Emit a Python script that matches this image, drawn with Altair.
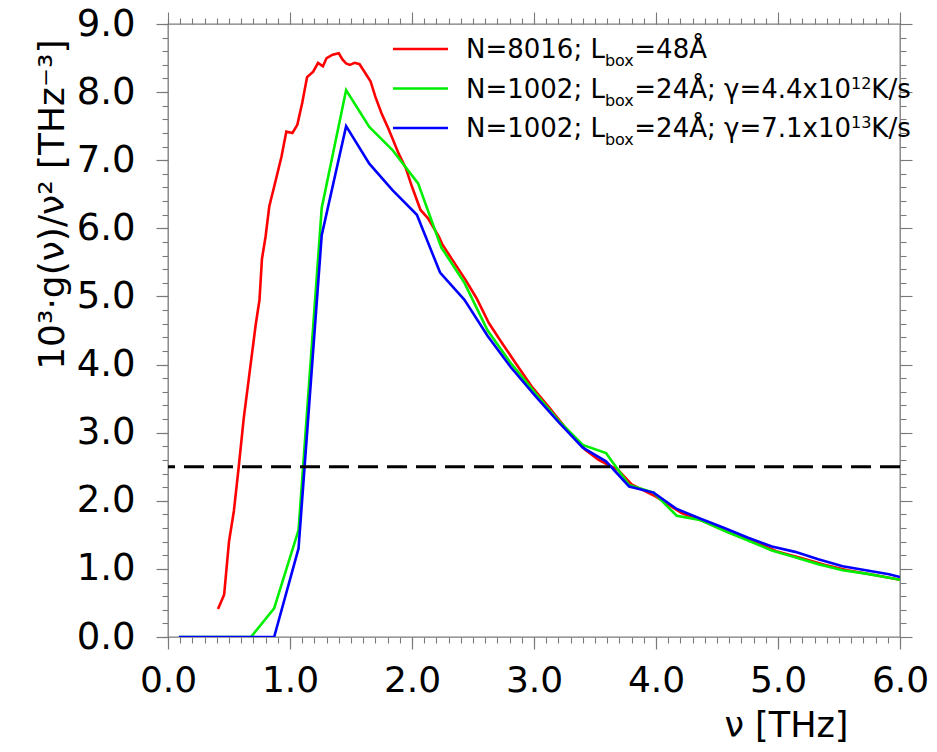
import altair as alt
import pandas as pd

# ---------------- data ----------------
red_nu = [0.41, 0.46, 0.50, 0.54, 0.58, 0.62, 0.67, 0.72, 0.75, 0.77,
          0.80, 0.83, 0.87, 0.93, 0.97, 1.02, 1.06, 1.10, 1.14, 1.19,
          1.23, 1.27, 1.30, 1.35, 1.40, 1.43, 1.46, 1.49, 1.53, 1.57,
          1.61, 1.66, 1.70, 1.75, 1.80, 1.84, 1.89, 1.95, 2.00, 2.07,
          2.13, 2.22, 2.25, 2.33, 2.44, 2.53, 2.63, 2.74, 2.85, 2.98,
          3.12, 3.25, 3.42, 3.53, 3.69, 3.80, 4.00, 4.21, 4.40, 4.62,
          4.81, 5.00, 5.19, 5.38, 5.57, 5.79, 6.00]
red_g = [0.41, 0.62, 1.40, 1.85, 2.50, 3.20, 3.90, 4.60, 4.95, 5.55,
         5.88, 6.32, 6.61, 7.05, 7.42, 7.40, 7.52, 7.84, 8.22, 8.30,
         8.43, 8.38, 8.50, 8.55, 8.57, 8.48, 8.42, 8.40, 8.43, 8.41,
         8.30, 8.16, 7.93, 7.69, 7.49, 7.32, 7.10, 6.88, 6.61, 6.27,
         6.15, 5.88, 5.76, 5.54, 5.24, 4.97, 4.61, 4.31, 4.02, 3.68,
         3.38, 3.09, 2.75, 2.60, 2.45, 2.24, 2.06, 1.82, 1.69, 1.52,
         1.40, 1.25, 1.16, 1.06, 0.98, 0.91, 0.84]

green_nu = [0.09, 0.68, 0.87, 1.07, 1.26, 1.46, 1.65, 1.84, 2.05, 2.24,
            2.43, 2.62, 2.81, 3.01, 3.20, 3.40, 3.59, 3.78, 3.98, 4.17,
            4.36, 4.56, 4.75, 4.95, 5.14, 5.33, 5.53, 5.72, 5.91, 6.00]
green_g = [0.00, 0.00, 0.42, 1.57, 6.30, 8.03, 7.49, 7.15, 6.66, 5.72,
           5.20, 4.50, 4.02, 3.58, 3.18, 2.82, 2.70, 2.23, 2.12, 1.78,
           1.72, 1.56, 1.42, 1.27, 1.17, 1.07, 0.98, 0.93, 0.87, 0.84]

blue_nu = [0.09, 0.87, 1.07, 1.26, 1.46, 1.65, 1.84, 2.04, 2.23, 2.43,
           2.62, 2.81, 3.01, 3.20, 3.40, 3.59, 3.78, 3.98, 4.17, 4.36,
           4.56, 4.75, 4.95, 5.14, 5.33, 5.53, 5.72, 5.91, 6.00]
blue_g = [0.00, 0.00, 1.30, 5.90, 7.50, 6.95, 6.56, 6.20, 5.35, 4.95,
          4.42, 3.96, 3.54, 3.16, 2.78, 2.58, 2.21, 2.12, 1.88, 1.74,
          1.60, 1.46, 1.33, 1.25, 1.14, 1.04, 0.98, 0.92, 0.88]

ref_level = [2.5]

x_major = [0, 1, 2, 3, 4, 5, 6]
y_major = [0, 1, 2, 3, 4, 5, 6, 7, 8, 9]
x_minor = [round(0.1 * i, 1) for i in range(61)]
y_minor = [round(0.2 * i, 1) for i in range(46)]

series_colors = ["#ff0000", "#00ee00", "#0000ff"]
legend_rows = [
    [("N=8016; L", "m"), ("box", "sub"), ("=48Å", "m")],
    [("N=1002; L", "m"), ("box", "sub"), ("=24Å; γ=4.4x10", "m"), ("12", "sup"), ("K/s", "m")],
    [("N=1002; L", "m"), ("box", "sub"), ("=24Å; γ=7.1x10", "m"), ("13", "sup"), ("K/s", "m")],
]

x_title = "ν [THz]"
y_title = "10³·g(ν)/ν² [THz⁻³]"

# ---------------- style ----------------
FONT = "DejaVu Sans"
W, H = 732, 613
FRAME = "#7a7a7a"
MAIN_FS, SMALL_FS = 26, 16

xs = alt.Scale(domain=[0, 6], nice=False, zero=False)
ys = alt.Scale(domain=[0, 9], nice=False, zero=False)

x_axis_main = alt.Axis(orient="bottom", values=x_major, format=".1f", tickSize=12,
                       tickColor=FRAME, tickWidth=1.2, domain=False, grid=False,
                       labelFont=FONT, labelFontSize=36, labelColor="black",
                       labelBaseline="alphabetic", labelPadding=42, labelFlush=False,
                       labelOverlap=False,
                       title=x_title, titleFont=FONT, titleFontSize=35,
                       titleFontWeight="normal", titleColor="black",
                       titleAlign="right", titleBaseline="alphabetic",
                       titleX=680, titleY=99)
y_axis_main = alt.Axis(orient="left", values=y_major, format=".1f", tickSize=12,
                       tickColor=FRAME, tickWidth=1.2, domain=False, grid=False,
                       labelFont=FONT, labelFontSize=37, labelColor="black",
                       labelPadding=21, labelFlush=False, labelOverlap=False,
                       labelBaseline="middle",
                       title=y_title, titleFont=FONT, titleFontSize=36,
                       titleFontWeight="normal", titleColor="black",
                       titleAngle=270, titleAlign="right", titleBaseline="alphabetic",
                       titleX=-105, titleY=15)


def tick_axis(orient, values, size):
    return alt.Axis(orient=orient, values=values, tickSize=size, tickColor=FRAME,
                    tickWidth=1.1, labels=False, domain=False, grid=False, title=None)


X = alt.X("nu:Q", scale=xs, axis=x_axis_main)
Y = alt.Y("g:Q", scale=ys, axis=y_axis_main)

df_red = pd.DataFrame({"nu": red_nu, "g": red_g})
df_green = pd.DataFrame({"nu": green_nu, "g": green_g})
df_blue = pd.DataFrame({"nu": blue_nu, "g": blue_g})


def line(df, color):
    return alt.Chart(df).mark_line(color=color, strokeWidth=2.6, clip=True).encode(x=X, y=Y)


dash = alt.Chart(pd.DataFrame({"g": ref_level})).mark_rule(
    color="black", strokeWidth=3, strokeDash=[20, 9]).encode(y=Y)

lines = alt.layer(line(df_red, series_colors[0]), line(df_green, series_colors[1]),
                  line(df_blue, series_colors[2]), dash)


def axis_layer(xo, yo, xv, yv, size):
    return alt.Chart(df_red).mark_point(opacity=0).encode(
        x=alt.X("nu:Q", scale=xs, axis=tick_axis(xo, xv, size)),
        y=alt.Y("g:Q", scale=ys, axis=tick_axis(yo, yv, size)))


minor_bl = axis_layer("bottom", "left", x_minor, y_minor, 6)
major_tr = axis_layer("top", "right", x_major, y_major, 12)
minor_tr = axis_layer("top", "right", x_minor, y_minor, 6)

# ---------------- manual legend (sub/superscripts) ----------------
adv = {"N": 0.748, "=": 0.838, ";": 0.337, " ": 0.318, "L": 0.557, "b": 0.635,
       "o": 0.612, "x": 0.592, "Å": 0.684, "γ": 0.592, ".": 0.318, "K": 0.656,
       "/": 0.337, "s": 0.521}


def text_width(s, fs):
    return sum(adv.get(c, 0.636) for c in s) * fs


x0, base0, row_gap = 298, 34, 39.5
pieces = []
rules = []
for i, row in enumerate(legend_rows):
    base = base0 + i * row_gap
    rules.append({"x1": 225, "x2": 280, "y": base - 9, "c": series_colors[i]})
    cx = x0
    for txt, kind in row:
        fs = MAIN_FS if kind == "m" else SMALL_FS
        dy = 0 if kind == "m" else (8 if kind == "sub" else -9)
        pieces.append({"t": txt, "px": cx, "py": base + dy, "fs": fs})
        cx += text_width(txt, fs)

legend_lines = alt.Chart(pd.DataFrame(rules)).mark_rule(strokeWidth=2.6).encode(
    x=alt.X("x1:Q", scale=None, axis=None), x2="x2:Q",
    y=alt.Y("y:Q", scale=None, axis=None),
    color=alt.Color("c:N", scale=None, legend=None))

legend_text = alt.Chart(pd.DataFrame(pieces)).mark_text(
    font=FONT, align="left", baseline="alphabetic", color="black").encode(
    x=alt.X("px:Q", scale=None, axis=None),
    y=alt.Y("py:Q", scale=None, axis=None),
    size=alt.Size("fs:Q", scale=None, legend=None),
    text="t:N")

chart = alt.layer(minor_bl, major_tr, minor_tr, lines, legend_lines, legend_text).resolve_scale(
    x="independent", y="independent"
).properties(
    width=W, height=H,
    autosize=alt.AutoSizeParams(type="none"),
    padding={"left": 160, "top": 16, "right": 29, "bottom": 106},
    background="white",
).configure_view(stroke=FRAME, strokeWidth=1.3)

chart.save("out.html", embed_options={"renderer": "svg", "actions": False})
